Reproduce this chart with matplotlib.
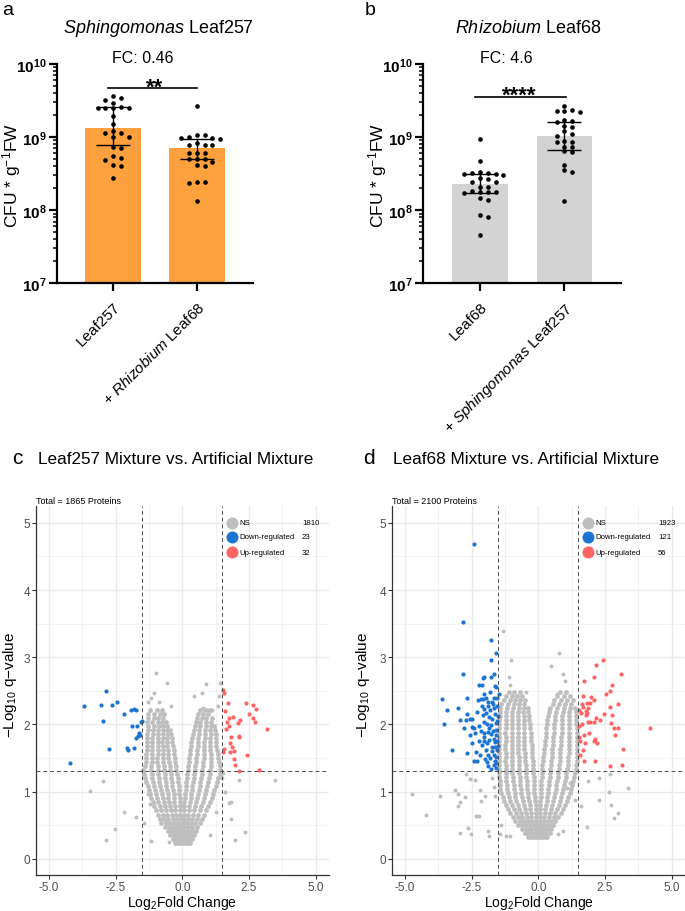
import numpy as np
import matplotlib
matplotlib.use('Agg')
import matplotlib.pyplot as plt
from matplotlib.ticker import LogLocator, NullFormatter

plt.rcParams['font.family'] = ['Liberation Sans', 'DejaVu Sans']
plt.rcParams['mathtext.fontset'] = 'custom'
plt.rcParams['mathtext.rm'] = 'Liberation Sans'
plt.rcParams['mathtext.it'] = 'Liberation Sans:italic'
plt.rcParams['mathtext.bf'] = 'Liberation Sans:bold'

# ---------------- data: CFU counts (panels a, b) ----------------
a_labels = ['Leaf257', r'+ $\mathit{Rhizobium}$ Leaf68']
a_heights = np.array([1.32e9, 7.1e8])
a_lo = np.array([7.9e8, 5.0e8])
a_hi = np.array([2.55e9, 9.4e8])
a_leaf257 = [3.6e9, 3.4e9, 3.25e9, 2.9e9, 2.6e9, 2.5e9, 2.5e9, 2.5e9, 2.5e9, 1.95e9, 1.5e9, 1.2e9,
             1.15e9, 1.15e9, 1.0e9, 1.0e9, 7.3e8, 7.2e8, 5.6e8, 5.2e8, 4.9e8, 4.1e8, 4.0e8, 2.8e8]
a_mix = [2.65e9, 1.07e9, 1.07e9, 1.0e9, 9.7e8, 9.6e8, 9.4e8, 8.2e8, 7.9e8, 7.9e8, 7.8e8, 6.1e8,
         6.0e8, 6.0e8, 5.0e8, 5.0e8, 5.0e8, 4.5e8, 4.1e8, 4.0e8, 2.4e8, 2.35e8, 2.4e8, 1.35e8]

b_labels = ['Leaf68', r'+ $\mathit{Sphingomonas}$ Leaf257']
b_heights = np.array([2.3e8, 1.05e9])
b_lo = np.array([1.7e8, 6.7e8])
b_hi = np.array([3.1e8, 1.63e9])
b_leaf68 = [9.4e8, 4.75e8, 3.3e8, 3.2e8, 3.15e8, 3.1e8, 3.05e8, 3.2e8, 2.75e8, 2.7e8, 2.45e8, 2.4e8,
            2.1e8, 2.05e8, 1.85e8, 1.8e8, 1.75e8, 1.72e8, 1.78e8, 1.45e8, 1.4e8, 8.6e7, 8.2e7, 4.6e7]
b_mix = [2.7e9, 2.35e9, 2.3e9, 2.25e9, 2.2e9, 1.7e9, 1.65e9, 1.6e9, 1.4e9, 1.38e9, 1.2e9, 1.1e9,
         1.05e9, 8.8e8, 8.6e8, 8.5e8, 7.4e8, 7.3e8, 6.4e8, 6.2e8, 4.2e8, 3.5e8, 3.3e8, 1.35e8]

# ---------------- data: volcano plots (panels c, d) ----------------
c_counts = [1810, 23, 32]
d_counts = [1923, 121, 56]

# dense grey cloud, rows of (-log10 q, [log2 FC ...])
c_cloud = [
    (0.24, [-0.28, -0.18, -0.08, 0.02, 0.12, 0.22, 0.30]),
    (0.30, [-0.36, -0.25, -0.14, -0.04, 0.06, 0.16, 0.27, 0.38]),
    (0.36, [-0.48, -0.33, -0.20, -0.10, 0.0, 0.10, 0.20, 0.33, 0.45]),
    (0.42, [-0.55, -0.42, -0.30, -0.18, -0.06, 0.06, 0.17, 0.30, 0.42, 0.50]),
    (0.48, [-0.65, -0.50, -0.37, -0.24, -0.12, -0.02, 0.08, 0.20, 0.35, 0.55]),
    (0.54, [-0.80, -0.62, -0.45, -0.30, -0.15, -0.03, 0.06, 0.18, 0.32, 0.48, 0.66]),
    (0.60, [-0.85, -0.68, -0.52, -0.36, -0.20, -0.06, 0.07, 0.20, 0.36, 0.55, 0.72]),
    (0.66, [-0.92, -0.74, -0.56, -0.40, -0.24, -0.08, 0.06, 0.22, 0.40, 0.60, 0.82]),
    (0.72, [-0.98, -0.80, -0.62, -0.44, -0.26, -0.08, 0.07, 0.25, 0.45, 0.66, 0.90]),
    (0.78, [-1.05, -0.85, -0.66, -0.47, -0.28, -0.10, 0.06, 0.26, 0.47, 0.70, 0.95]),
    (0.84, [-1.10, -0.90, -0.70, -0.50, -0.30, -0.10, 0.08, 0.30, 0.52, 0.76, 1.02]),
    (0.90, [-1.18, -0.95, -0.74, -0.52, -0.32, -0.10, 0.10, 0.32, 0.55, 0.80, 1.10]),
    (0.96, [-1.22, -1.00, -0.77, -0.55, -0.33, -0.11, 0.10, 0.34, 0.60, 0.85, 1.15]),
    (1.02, [-1.25, -1.03, -0.80, -0.58, -0.36, -0.13, 0.12, 0.36, 0.62, 0.90, 1.20]),
    (1.08, [-1.30, -1.06, -0.83, -0.60, -0.38, -0.14, 0.13, 0.38, 0.65, 0.92, 1.25]),
    (1.14, [-1.35, -1.10, -0.86, -0.62, -0.40, -0.15, 0.15, 0.40, 0.68, 0.96, 1.30]),
    (1.20, [-1.40, -1.12, -0.88, -0.65, -0.42, -0.18, 0.16, 0.42, 0.70, 1.00, 1.35]),
    (1.26, [-1.45, -1.15, -0.90, -0.66, -0.44, -0.20, 0.18, 0.45, 0.72, 1.02, 1.40]),
    (1.32, [-1.46, -1.18, -0.92, -0.68, -0.45, -0.22, 0.20, 0.46, 0.75, 1.05, 1.42]),
    (1.38, [-1.40, -1.16, -0.93, -0.70, -0.48, -0.24, 0.22, 0.48, 0.76, 1.06, 1.40]),
    (1.44, [-1.38, -1.15, -0.94, -0.72, -0.50, -0.26, 0.24, 0.50, 0.78, 1.08, 1.38]),
    (1.50, [-1.36, -1.14, -0.94, -0.74, -0.52, -0.28, 0.26, 0.52, 0.80, 1.08, 1.35]),
    (1.56, [-1.35, -1.13, -0.93, -0.74, -0.54, -0.30, 0.28, 0.54, 0.80, 1.06, 1.32]),
    (1.62, [-1.34, -1.12, -0.92, -0.74, -0.55, -0.32, 0.30, 0.55, 0.80, 1.05, 1.30]),
    (1.68, [-1.33, -1.12, -0.92, -0.74, -0.56, -0.34, 0.32, 0.57, 0.82, 1.05, 1.28]),
    (1.74, [-1.33, -1.13, -0.93, -0.75, -0.57, -0.38, 0.34, 0.58, 0.82, 1.04, 1.28]),
    (1.80, [-1.32, -1.12, -0.92, -0.74, -0.58, -0.40, 0.36, 0.60, 0.84, 1.05, 1.26]),
    (1.86, [-1.32, -1.10, -0.90, -0.72, -0.55, -0.42, 0.40, 0.62, 0.85, 1.06, 1.25]),
    (1.92, [-1.30, -1.10, -0.90, -0.73, -0.56, -0.45, 0.44, 0.64, 0.86, 1.05, 1.22]),
    (1.98, [-1.30, -1.08, -0.88, -0.72, -0.58, 0.48, 0.66, 0.88, 1.06, 1.20]),
    (2.04, [-1.32, -1.12, -0.92, -0.75, -0.60, 0.52, 0.68, 0.90, 1.08]),
    (2.10, [-1.28, -1.08, -0.90, -0.72, 0.55, 0.72, 0.90, 1.12]),
    (2.16, [-1.30, -1.05, -0.85, -0.68, 0.60, 0.78, 0.95]),
    (2.22, [-1.20, -0.95, -0.78, 0.68, 0.85, 1.05]),
]
c_ns = [(-1.00, 2.77), (-0.58, 2.62), (0.88, 2.60), (1.42, 2.62), (0.74, 2.47), (0.45, 2.43),
        (-1.05, 2.47), (-1.29, 2.33), (-1.19, 2.40), (-0.86, 2.34), (-0.43, 2.28), (1.37, 2.42),
        (0.78, 2.24), (0.93, 2.22), (1.12, 2.21), (1.35, 2.28), (-2.98, 1.16), (-3.47, 1.01),
        (3.46, 1.18), (2.14, 1.18), (1.59, 1.00), (1.74, 0.83), (1.82, 0.85), (1.84, 0.59),
        (-2.18, 0.69), (-1.75, 0.63), (-2.54, 0.44), (-2.88, 0.28), (2.36, 0.40), (1.99, 0.28),
        (1.25, 0.70), (1.03, 0.36), (-1.17, 0.27), (-1.43, 0.53), (-1.27, 0.97), (-1.23, 0.81),
        (1.47, 1.20), (1.54, 1.28), (-0.51, 0.25)]
c_down = [(-2.88, 2.50), (-3.68, 2.28), (-3.05, 2.29), (-2.64, 2.29), (-2.44, 2.34), (-2.17, 2.16),
          (-1.92, 2.22), (-1.83, 2.23), (-1.74, 2.21), (-2.97, 2.05), (-1.55, 2.03), (-1.89, 1.98),
          (-1.69, 1.98), (-1.64, 1.88), (-1.58, 1.84), (-1.68, 1.83), (-1.75, 1.80), (-2.76, 1.64),
          (-2.06, 1.65), (-2.02, 1.62), (-1.83, 1.65), (-4.22, 1.42), (-1.52, 2.05)]
c_up = [(1.52, 2.51), (1.57, 2.47), (1.73, 2.32), (2.39, 2.32), (2.64, 2.29), (2.78, 2.23),
        (1.89, 2.11), (1.74, 2.10), (2.49, 2.15), (2.66, 2.10), (2.18, 2.06), (2.07, 2.02),
        (2.71, 2.03), (1.69, 2.03), (1.75, 1.98), (1.63, 1.93), (3.17, 1.93), (1.84, 1.81),
        (2.11, 1.82), (2.14, 1.83), (1.78, 1.72), (1.87, 1.66), (1.95, 1.61), (1.78, 1.59),
        (1.58, 1.63), (1.53, 1.59), (2.42, 1.54), (1.94, 1.49), (1.98, 1.40), (2.14, 1.31),
        (2.87, 1.32), (1.60, 2.20)]

d_cloud = [
    (0.32, [-0.40, -0.28, -0.16, -0.05, 0.05, 0.15, 0.26, 0.34]),
    (0.38, [-0.50, -0.38, -0.26, -0.14, -0.03, 0.08, 0.18, 0.30, 0.42]),
    (0.44, [-0.62, -0.48, -0.35, -0.22, -0.10, 0.02, 0.12, 0.24, 0.36, 0.48]),
    (0.50, [-0.75, -0.60, -0.45, -0.30, -0.16, -0.04, 0.06, 0.18, 0.32, 0.46, 0.56]),
    (0.56, [-0.88, -0.70, -0.54, -0.38, -0.22, -0.08, 0.05, 0.20, 0.36, 0.52, 0.64]),
    (0.62, [-0.95, -0.78, -0.60, -0.43, -0.26, -0.10, 0.05, 0.22, 0.40, 0.58, 0.74]),
    (0.68, [-1.05, -0.85, -0.66, -0.47, -0.28, -0.10, 0.06, 0.24, 0.44, 0.64, 0.84]),
    (0.74, [-1.14, -0.93, -0.72, -0.51, -0.30, -0.08, 0.06, 0.26, 0.48, 0.70, 0.92]),
    (0.80, [-1.22, -1.00, -0.78, -0.55, -0.33, -0.10, 0.08, 0.30, 0.52, 0.76, 1.00]),
    (0.86, [-1.28, -1.05, -0.82, -0.58, -0.35, -0.12, 0.08, 0.32, 0.56, 0.82, 1.06]),
    (0.92, [-1.34, -1.10, -0.86, -0.62, -0.38, -0.13, 0.09, 0.34, 0.60, 0.86, 1.12]),
    (0.98, [-1.39, -1.14, -0.89, -0.64, -0.40, -0.15, 0.10, 0.36, 0.62, 0.90, 1.18]),
    (1.04, [-1.42, -1.17, -0.92, -0.66, -0.41, -0.16, 0.10, 0.38, 0.65, 0.93, 1.22]),
    (1.10, [-1.44, -1.19, -0.93, -0.68, -0.42, -0.17, 0.11, 0.39, 0.67, 0.96, 1.26]),
    (1.16, [-1.45, -1.20, -0.95, -0.69, -0.44, -0.18, 0.11, 0.40, 0.69, 0.99, 1.30]),
    (1.22, [-1.46, -1.21, -0.96, -0.70, -0.45, -0.18, 0.12, 0.42, 0.72, 1.02, 1.34]),
    (1.28, [-1.47, -1.22, -0.97, -0.71, -0.46, -0.19, 0.13, 0.43, 0.74, 1.05, 1.37]),
    (1.34, [-1.48, -1.23, -0.98, -0.72, -0.47, -0.20, 0.14, 0.45, 0.76, 1.08, 1.40]),
    (1.40, [-1.48, -1.23, -0.98, -0.73, -0.48, -0.20, 0.15, 0.46, 0.78, 1.10, 1.42]),
    (1.46, [-1.48, -1.24, -0.99, -0.74, -0.49, -0.21, 0.17, 0.48, 0.80, 1.12, 1.45]),
    (1.52, [-1.47, -1.23, -0.99, -0.74, -0.50, -0.22, 0.18, 0.50, 0.81, 1.13, 1.46]),
    (1.58, [-1.47, -1.23, -0.99, -0.75, -0.51, -0.23, 0.20, 0.51, 0.82, 1.14, 1.46]),
    (1.64, [-1.48, -1.24, -1.00, -0.76, -0.52, -0.24, 0.22, 0.52, 0.83, 1.15, 1.46]),
    (1.70, [-1.48, -1.24, -1.00, -0.76, -0.52, -0.25, 0.24, 0.54, 0.84, 1.15, 1.45]),
    (1.76, [-1.47, -1.23, -0.99, -0.76, -0.53, -0.26, 0.25, 0.55, 0.85, 1.16, 1.45]),
    (1.82, [-1.47, -1.23, -0.99, -0.76, -0.53, -0.27, 0.27, 0.56, 0.86, 1.16, 1.44]),
    (1.88, [-1.48, -1.24, -1.00, -0.77, -0.54, -0.28, 0.28, 0.57, 0.87, 1.16, 1.44]),
    (1.94, [-1.47, -1.23, -1.00, -0.77, -0.54, -0.30, 0.30, 0.58, 0.88, 1.16, 1.44]),
    (2.00, [-1.46, -1.22, -0.99, -0.77, -0.55, -0.32, 0.32, 0.60, 0.88, 1.15, 1.42]),
    (2.06, [-1.46, -1.22, -0.99, -0.77, -0.55, -0.34, 0.34, 0.62, 0.90, 1.16, 1.42]),
    (2.12, [-1.45, -1.21, -0.98, -0.76, -0.55, -0.36, 0.36, 0.64, 0.90, 1.15, 1.40]),
    (2.18, [-1.44, -1.20, -0.97, -0.75, -0.56, -0.38, 0.40, 0.66, 0.92, 1.15, 1.40]),
    (2.24, [-1.43, -1.18, -0.95, -0.74, -0.55, -0.40, 0.45, 0.70, 0.95, 1.18, 1.38]),
    (2.30, [-1.40, -1.15, -0.93, -0.72, -0.52, 0.55, 0.78, 1.00, 1.22]),
    (2.36, [-1.30, -1.08, -0.88, -0.68, -0.50, 0.60, 0.85, 1.08, 1.30]),
    (2.42, [-1.22, -1.00, -0.80, -0.60, 0.70, 0.95, 1.20]),
    (2.48, [-1.10, -0.90, -0.70, 0.80, 1.05]),
]
d_ns = [(-1.32, 3.39), (0.79, 3.07), (-1.02, 2.96), (0.49, 2.87), (0.94, 2.75), (1.00, 2.64),
        (-1.10, 2.71), (-1.05, 2.58), (-0.45, 2.49), (0.71, 2.46), (1.04, 2.49), (0.39, 2.23),
        (-4.75, 0.96), (-4.21, 0.66), (-3.67, 0.94), (-3.11, 1.03), (-3.02, 0.96), (-2.76, 0.92),
        (-2.93, 0.85), (-3.02, 0.79), (-2.71, 1.26), (-2.55, 1.19), (-2.38, 1.17), (-2.17, 1.03),
        (-2.01, 0.94), (-2.16, 0.86), (-2.34, 0.64), (-2.22, 0.64), (-2.63, 0.46), (-2.92, 0.39),
        (-2.51, 0.37), (-1.87, 0.42), (-1.84, 0.34), (-1.74, 1.20), (-1.68, 1.07), (-1.64, 0.93),
        (1.87, 1.16), (2.26, 1.20), (2.68, 1.26), (3.35, 1.06), (2.26, 0.88), (2.66, 0.99),
        (2.73, 0.80), (2.82, 0.61), (2.98, 0.68), (1.84, 0.47), (1.59, 0.78), (1.38, 0.87),
        (1.09, 1.06), (1.18, 1.13), (0.73, 0.37), (0.93, 0.42), (-1.20, 0.34), (-1.07, 0.34),
        (-1.42, 0.37), (-1.39, 0.50)]
d_down = [(-2.42, 4.68), (-2.84, 3.53), (-1.78, 3.25), (-1.58, 3.07), (-1.78, 2.96), (-2.82, 2.75),
          (-1.67, 2.75), (-1.77, 2.70), (-2.02, 2.71), (-2.08, 2.69), (-2.24, 2.58), (-2.11, 2.58),
          (-1.63, 2.57), (-2.03, 2.45), (-1.49, 2.45), (-3.60, 2.38), (-2.66, 2.39), (-2.27, 2.37),
          (-2.16, 2.38), (-2.06, 2.38), (-1.89, 2.33), (-1.73, 2.34), (-1.65, 2.39), (-1.54, 2.39),
          (-3.00, 2.24), (-3.41, 2.22), (-2.11, 2.28), (-2.02, 2.23), (-1.83, 2.22), (-1.68, 2.24),
          (-1.55, 2.28), (-2.67, 2.16), (-2.56, 2.08), (-2.92, 2.07), (-2.71, 2.07), (-2.47, 2.08),
          (-2.09, 2.14), (-1.95, 2.17), (-1.85, 2.11), (-1.73, 2.08), (-1.62, 2.15), (-1.54, 2.05),
          (-3.55, 2.01), (-2.77, 1.95), (-2.47, 1.96), (-2.22, 1.98), (-2.04, 2.03), (-1.92, 2.01),
          (-1.78, 1.99), (-1.60, 2.02), (-2.36, 1.87), (-2.02, 1.88), (-1.87, 1.89), (-1.77, 1.86),
          (-1.69, 1.90), (-1.58, 1.84), (-2.47, 1.72), (-2.23, 1.76), (-2.03, 1.76), (-1.85, 1.77),
          (-1.67, 1.78), (-1.55, 1.76), (-3.23, 1.62), (-2.67, 1.58), (-2.34, 1.59), (-2.12, 1.69),
          (-1.93, 1.72), (-1.75, 1.67), (-1.62, 1.66), (-1.54, 1.62), (-2.43, 1.45), (-2.29, 1.45),
          (-1.99, 1.49), (-1.92, 1.44), (-1.80, 1.50), (-1.64, 1.46), (-1.57, 1.43), (-1.89, 1.54),
          (-1.65, 1.55), (-1.58, 1.52), (-1.77, 1.33), (-1.59, 1.35), (-1.52, 2.12), (-1.70, 2.30),
          (-1.95, 2.40), (-1.60, 1.92), (-1.85, 1.95), (-2.15, 1.90), (-1.72, 1.60), (-1.95, 1.62),
          (-2.20, 1.55), (-1.52, 1.68), (-1.66, 1.40), (-1.88, 1.38), (-2.05, 1.82), (-2.30, 2.18),
          (-1.58, 2.55), (-1.81, 2.48), (-2.40, 1.95), (-1.62, 1.74), (-2.55, 1.85), (-1.90, 2.28)]
d_up = [(2.42, 2.96), (2.17, 2.89), (3.11, 2.75), (2.07, 2.71), (1.73, 2.64), (2.78, 2.58),
        (2.68, 2.50), (2.53, 2.45), (1.69, 2.43), (1.99, 2.41), (2.07, 2.37), (1.92, 2.32),
        (1.82, 2.32), (2.98, 2.31), (1.62, 2.30), (1.68, 2.26), (1.77, 2.20), (1.83, 2.17),
        (1.87, 2.24), (2.68, 2.26), (2.47, 2.15), (2.77, 2.14), (1.52, 2.22), (1.60, 2.17),
        (1.79, 2.14), (2.18, 2.09), (2.31, 2.06), (2.08, 2.04), (1.95, 2.04), (1.88, 2.04),
        (1.63, 2.01), (1.52, 1.97), (2.73, 2.02), (2.82, 1.94), (3.00, 1.94), (4.17, 1.94),
        (1.70, 1.85), (1.89, 1.88), (1.53, 1.81), (1.57, 1.76), (2.14, 1.78), (2.09, 1.75),
        (2.19, 1.72), (1.75, 1.72), (2.86, 1.85), (3.17, 1.64), (1.69, 1.62), (1.55, 1.54),
        (1.73, 1.46), (2.11, 1.46), (2.67, 1.38), (3.13, 1.40)]

ORANGE = '#FDA13F'
LIGHT = '#D3D3D3'
GREY = '#BEBEBE'
BLUE = '#1C75D3'
RED = '#FF6464'

W, H = 685, 912
fig = plt.figure(figsize=(W / 100, H / 100), dpi=100)


def fx(px):
    return px / W


def fy(py):
    return 1 - py / H


def swarm_x(ax, xc, vals, slot=7.8, dot=4.6):
    # simple column scatter like GraphPad: fixed horizontal slots
    tr = ax.transData
    cx = tr.transform((xc, 1e8))[0]
    placed = []
    out = np.empty(len(vals))
    for i in np.argsort(vals)[::-1]:
        py = tr.transform((xc, vals[i]))[1]
        for k in [0, 1, -1, 2, -2, 3, -3, 4, -4, 5, -5]:
            px = cx + k * slot
            if all(abs(px - qx) > slot * 0.8 or abs(py - qy) > dot for qx, qy in placed):
                break
        placed.append((px, py))
        out[i] = tr.inverted().transform((px, py))[0]
    return out


def bar_panel(ax, labels, heights, lo, hi, groups, color):
    pos = np.arange(len(heights))
    ax.set_yscale('log')
    ax.set_xlim(-0.67, 1.67)
    ax.set_ylim(1e7, 1e10)
    ax.bar(pos, heights, width=0.66, color=color, zorder=1)
    for p, vals in zip(pos, groups):
        vals = np.array(vals)
        ax.scatter(swarm_x(ax, p, vals), vals, s=11, color='black', linewidths=0, zorder=3)
    ax.errorbar(pos, heights, yerr=[heights - lo, hi - heights], fmt='none', ecolor='black',
                elinewidth=1, capsize=12.5, capthick=1, zorder=4)
    for s in ['top', 'right']:
        ax.spines[s].set_visible(False)
    for s in ['left', 'bottom']:
        ax.spines[s].set_linewidth(1.6)
    ax.set_yticks([1e7, 1e8, 1e9, 1e10])
    ax.set_yticklabels([r'$\mathbf{10^{7}}$', r'$\mathbf{10^{8}}$', r'$\mathbf{10^{9}}$',
                        r'$\mathbf{10^{10}}$'], fontsize=11)
    ax.yaxis.set_minor_locator(LogLocator(base=10, subs=np.arange(2, 10)))
    ax.yaxis.set_minor_formatter(NullFormatter())
    ax.tick_params(axis='y', which='major', length=5.5, width=1.6, pad=2)
    ax.tick_params(axis='y', which='minor', length=3, width=1.1)
    ax.set_xticks(pos)
    ax.set_xticklabels(labels, rotation=45, ha='right', va='top', rotation_mode='anchor', fontsize=11)
    ax.tick_params(axis='x', length=5.5, width=1.6, pad=6)


def volcano(ax, cloud, ns, down, up, counts, total):
    ax.set_xlim(-5.5, 5.5)
    ax.set_ylim(-0.24, 5.25)
    ax.set_xticks([-5, -2.5, 0, 2.5, 5])
    ax.set_xticklabels(['-5.0', '-2.5', '0.0', '2.5', '5.0'])
    ax.set_xticks([-3.75, -1.25, 1.25, 3.75], minor=True)
    ax.set_yticks(range(6))
    ax.set_yticks([0.5, 1.5, 2.5, 3.5, 4.5], minor=True)
    ax.grid(which='major', color='#EBEBEB', lw=1.0)
    ax.grid(which='minor', color='#F0F0F0', lw=0.6)
    ax.set_axisbelow(True)
    ax.tick_params(which='minor', length=0)
    ax.tick_params(which='major', length=3, width=0.8, color='#333333', labelcolor='#4D4D4D',
                   labelsize=8.5, pad=1)
    for s in ['top', 'right']:
        ax.spines[s].set_visible(False)
    for s in ['left', 'bottom']:
        ax.spines[s].set_color('#333333')
        ax.spines[s].set_linewidth(0.9)

    cx = [x for y, xs in cloud for x in xs]
    cy = [y for y, xs in cloud for x in xs]
    ax.scatter(cx, cy, s=12, color=GREY, linewidths=0, zorder=2)
    ax.scatter([p[0] for p in ns], [p[1] for p in ns], s=8, color=GREY, linewidths=0, zorder=2)
    ax.scatter([p[0] for p in down], [p[1] for p in down], s=9, color=BLUE, linewidths=0, zorder=3)
    ax.scatter([p[0] for p in up], [p[1] for p in up], s=9, color=RED, linewidths=0, zorder=3)

    for xv in (-1.5, 1.5):
        ax.axvline(xv, color='#4D4D4D', lw=0.7, ls=(0, (4, 3)), zorder=4)
    ax.axhline(1.3, color='#4D4D4D', lw=0.7, ls=(0, (4, 3)), zorder=4)

    names = ['NS', 'Down-regulated', 'Up-regulated']
    cols = [GREY, BLUE, RED]
    for yy, name, col, n in zip([0.954, 0.916, 0.875], names, cols, counts):
        ax.scatter([0.669], [yy], s=75, color=col, linewidths=0, transform=ax.transAxes,
                   clip_on=False, zorder=5)
        ax.text(0.695, yy, name, transform=ax.transAxes, fontsize=5.6, va='center', ha='left', zorder=5)
        ax.text(0.908, yy, str(n), transform=ax.transAxes, fontsize=5.6, va='center', ha='left', zorder=5)
    ax.text(0.0, 1.004, f'Total = {total} Proteins', transform=ax.transAxes, fontsize=6.5,
            va='bottom', ha='left')


# ---------------- panels a, b ----------------
ax_a = fig.add_axes([fx(57), fy(284.3), 196 / W, 219.3 / H])
bar_panel(ax_a, a_labels, a_heights, a_lo, a_hi, [a_leaf257, a_mix], ORANGE)
ax_a.plot([-0.06, 1.0], [4.7e9, 4.7e9], color='black', lw=1.2, clip_on=False)
ax_a.text(0.49, 4.1e9, '**', ha='center', va='baseline', fontsize=16, fontweight='bold')

ax_b = fig.add_axes([fx(423.3), fy(284.3), 197.7 / W, 219.3 / H])
bar_panel(ax_b, b_labels, b_heights, b_lo, b_hi, [b_leaf68, b_mix], LIGHT)
ax_b.plot([-0.06, 1.02], [3.57e9, 3.57e9], color='black', lw=1.2, clip_on=False)
ax_b.text(0.46, 3.1e9, '****', ha='center', va='baseline', fontsize=16, fontweight='bold')

fig.text(fx(2), fy(15), 'a', fontsize=14, va='baseline')
fig.text(fx(365), fy(15), 'b', fontsize=14, va='baseline')
fig.text(fx(158), fy(33), r'$\mathit{Sphingomonas}$ Leaf257', fontsize=13, ha='center', va='baseline')
fig.text(fx(528), fy(33), r'$\mathit{Rhizobium}$ Leaf68', fontsize=13, ha='center', va='baseline')
fig.text(fx(143), fy(63), 'FC: 0.46', fontsize=11.5, ha='center', va='baseline')
fig.text(fx(506), fy(63), 'FC: 4.6', fontsize=11.5, ha='center', va='baseline')
fig.text(fx(12), fy(175), r'CFU * g$^{-1}$FW', fontsize=12.5, rotation=90, ha='center', va='center')
fig.text(fx(378), fy(175), r'CFU * g$^{-1}$FW', fontsize=12.5, rotation=90, ha='center', va='center')

# ---------------- panels c, d ----------------
ax_c = fig.add_axes([fx(35.7), fy(876), 293.3 / W, 369 / H])
volcano(ax_c, c_cloud, c_ns, c_down, c_up, c_counts, 1865)
ax_d = fig.add_axes([fx(391.7), fy(876), 293.3 / W, 369 / H])
volcano(ax_d, d_cloud, d_ns, d_down, d_up, d_counts, 2100)

fig.text(fx(12), fy(464), 'c', fontsize=15, va='baseline')
fig.text(fx(363), fy(464), 'd', fontsize=15, va='baseline')
fig.text(fx(38), fy(464), 'Leaf257 Mixture vs. Artificial Mixture', fontsize=12.3, va='baseline')
fig.text(fx(393), fy(464), 'Leaf68 Mixture vs. Artificial Mixture', fontsize=12.3, va='baseline')
for xl, xc in [(10, 182), (363, 538.7)]:
    fig.text(fx(xl), fy(685), r'$-$Log$_{10}$ q$-$value', fontsize=11, rotation=90,
             ha='center', va='center')
    fig.text(fx(xc), fy(907), r'Log$_2$Fold Change', fontsize=10, ha='center', va='baseline')

fig.savefig('out.png', dpi=100)
